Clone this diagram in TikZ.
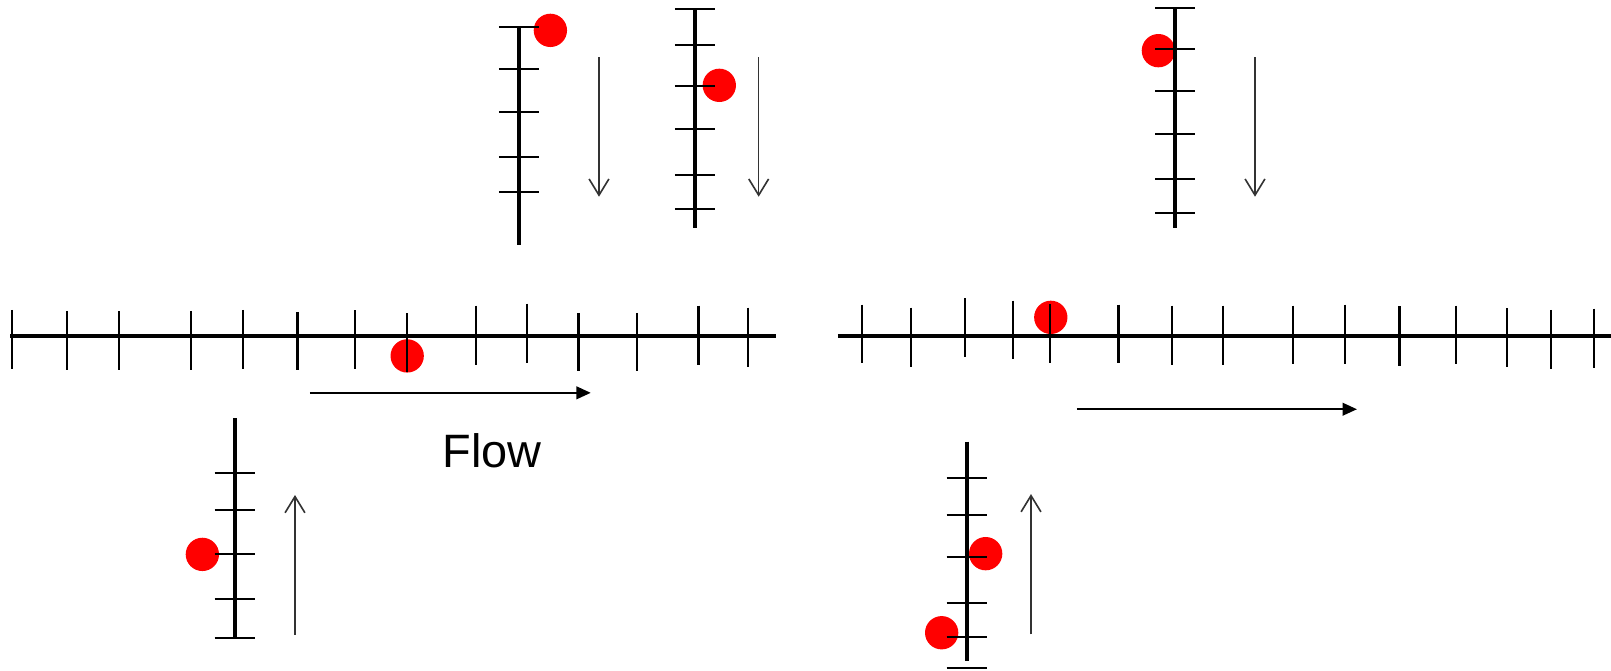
\documentclass[tikz,border=0pt]{standalone}
\usepackage{fontspec}
\setmainfont{Liberation Sans}
\usetikzlibrary{arrows.meta}
\tikzset{
  scaleline/.style={line width=2.3pt},
  tick/.style={line width=1.2pt},
  dot/.style={circle, fill=red, draw=none, minimum size=0.65cm, inner sep=0pt},
  flowarrow/.style={line width=1.2pt, -{Triangle[length=8pt,width=7pt]}},
  motion/.style={line width=0.8pt, black!80, -{Straight Barb[length=9pt,width=11pt,line width=0.9pt]}}
}
\begin{document}
\begin{tikzpicture}[x=0.02cm,y=-0.02cm]
        \useasboundingbox (0,0) rectangle (1570.7,654.2);

        % Particles (drawn first, the ticks run over them)
        \node[dot] (dotA) at (536.6,29.6) {};
        \node[dot] (dotB) at (701.3,83.2) {};
        \node[dot] (dotC) at (1129.4,49.4) {};
        \node[dot] (dotL) at (397,347) {};
        \node[dot] (dotR) at (1024.5,309.4) {};
        \node[dot] (dotD) at (197.3,540.5) {};
        \node[dot] (dotE) at (961,539.8) {};
        \node[dot] (dotF) at (918.1,616.9) {};

        % Left horizontal scale
        \draw[scaleline] (10,328) -- (757,328);
        \foreach \x/\t/\b in {12/302/360, 65/303/361, 116/303.5/361, 186/303/361,
                237/302/360, 290/304/361, 346/302.5/360, 397/305.5/363,
                464/298/356, 514/296/353.5, 564/305/362, 621/305/362,
                681/298/356, 729/300/357.5}
            \draw[tick] (\x,\t) -- (\x,\b);

        % Right horizontal scale
        \draw[scaleline] (817,328) -- (1570.7,328);
        \foreach \x/\t/\b in {840.5/297/354, 888.5/300/357.5, 940.5/291/348, 988/293/350,
                1024/296.5/353.6, 1090.5/297/354, 1142.5/298/356, 1192.5/298/356,
                1260.5/298/355, 1311/297/354.6, 1364.5/298.7/356.5, 1419.5/298/355,
                1469.5/300.6/358, 1512/302/360, 1554.5/301/359}
            \draw[tick] (\x,\t) -- (\x,\b);

        % Vertical scales at the top
        \draw[scaleline] (506,26) -- (506,239);
        \foreach \y in {26.7,67.3,109.5,153.4,187.2}
            \draw[tick] (486.5,\y) -- (525.5,\y);

        \draw[scaleline] (677.6,9.1) -- (677.6,222.6);
        \foreach \y in {9.1,43.6,84.2,126.1,170.3,204.1}
            \draw[tick] (658.1,\y) -- (697.1,\y);

        \draw[scaleline] (1145.6,8.1) -- (1145.6,222.6);
        \foreach \y in {8.1,48.1,88.4,130.7,174.8,208}
            \draw[tick] (1126.1,\y) -- (1165.1,\y);

        % Vertical scales at the bottom
        \draw[scaleline] (228.8,407.9) -- (228.8,622.4);
        \foreach \y in {460.9,497.6,540.2,584,622.4}
            \draw[tick] (209.3,\y) -- (248.3,\y);

        \draw[scaleline] (942.5,430.6) -- (942.5,644.2);
        \foreach \y in {465.7,501.8,543.4,587.9,621.4,651.6}
            \draw[tick] (923,\y) -- (962,\y);

        % Direction of motion
        \coordinate (aTop) at (584,55.9);     \coordinate (aBot) at (584,191.8);
        \coordinate (bTop) at (739.7,55.9);   \coordinate (bBot) at (739.7,191.8);
        \coordinate (cTop) at (1223.6,55.9);  \coordinate (cBot) at (1223.6,191.8);
        \coordinate (dTop) at (287.6,482.6);  \coordinate (dBot) at (287.6,619);
        \coordinate (eTop) at (1005.2,481.7); \coordinate (eBot) at (1005.2,618.5);
        \draw[motion] (aTop) -- (aBot);
        \draw[motion] (bTop) -- (bBot);
        \draw[motion] (cTop) -- (cBot);
        \draw[motion] (dBot) -- (dTop);
        \draw[motion] (eBot) -- (eTop);

        % Flow
        \coordinate (flowL1) at (302,383);  \coordinate (flowL2) at (576,383);
        \coordinate (flowR1) at (1050,399); \coordinate (flowR2) at (1323,399);
        \draw[flowarrow] (flowL1) -- (flowL2);
        \draw[flowarrow] (flowR1) -- (flowR2);
        \node[anchor=base, inner sep=0pt, font=\fontsize{26}{30}\selectfont] (flow) at (480,455.7) {Flow};

    \end{tikzpicture}
\end{document}
